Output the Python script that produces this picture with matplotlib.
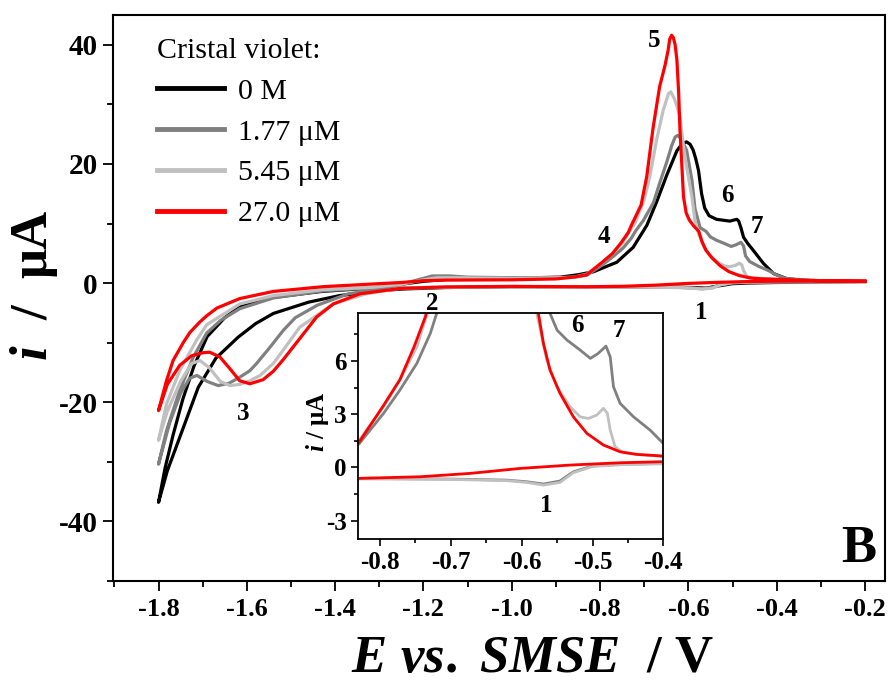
import matplotlib
matplotlib.use("Agg")
import matplotlib.pyplot as plt
from matplotlib.ticker import MultipleLocator, FuncFormatter

plt.rcParams['font.family'] = ['Liberation Serif', 'DejaVu Serif']
plt.rcParams['mathtext.fontset'] = 'custom'
plt.rcParams['mathtext.rm'] = 'Liberation Serif:bold'
plt.rcParams['mathtext.it'] = 'Liberation Serif:italic:bold'
plt.rcParams['mathtext.bf'] = 'Liberation Serif:bold'

# ---- cyclic voltammograms: potential E (V vs SMSE) and current i (uA) ----
# 0 M crystal violet
e_0 = [-0.20, -0.30, -0.40, -0.47, -0.50, -0.53, -0.56, -0.59, -0.65, -0.80, -1.00, -1.15, -1.25, -1.30,
       -1.39, -1.46, -1.54, -1.58, -1.62, -1.67, -1.71, -1.745, -1.78, -1.80,
       -1.785, -1.767, -1.745, -1.72, -1.69, -1.65, -1.616, -1.54, -1.43, -1.31, -1.25, -1.20, -1.15,
       -1.05, -0.95, -0.89, -0.85, -0.815, -0.762, -0.725, -0.694, -0.672, -0.649, -0.626, -0.614,
       -0.604, -0.596, -0.589, -0.583, -0.577, -0.570, -0.563, -0.553, -0.536, -0.506, -0.496, -0.490,
       -0.486, -0.481, -0.475, -0.465, -0.453, -0.430, -0.407, -0.377, -0.33, -0.26, -0.20]
i_0 = [0.25, 0.2, 0.1, 0.0, -0.1, -0.45, -0.85, -0.75, -0.65, -0.6, -0.6, -0.75, -1.0, -1.3,
       -2.1, -3.2, -5.1, -6.8, -9.1, -12.6, -17.5, -24.5, -31.5, -36.8,
       -31.0, -25.5, -19.5, -14.0, -9.0, -5.8, -4.0, -2.4, -1.4, -0.8, -0.2, 0.3, 0.6,
       0.8, 0.9, 1.0, 1.4, 1.9, 3.5, 6.0, 9.7, 13.6, 18.1, 22.2, 23.4,
       23.7, 23.3, 22.3, 20.8, 18.9, 15.0, 12.6, 11.3, 10.7, 10.4, 10.6, 10.7,
       10.4, 9.3, 7.7, 6.6, 5.5, 3.3, 1.6, 0.74, 0.45, 0.35, 0.3]

# 1.77 uM crystal violet
e_177 = [-0.20, -0.30, -0.40, -0.46, -0.50, -0.527, -0.546, -0.569, -0.593, -0.621, -0.70, -0.83, -1.00,
         -1.15, -1.25, -1.29, -1.37, -1.44, -1.49, -1.517, -1.55, -1.578, -1.593, -1.616, -1.64, -1.665,
         -1.69, -1.713, -1.73, -1.75, -1.775, -1.80,
         -1.782, -1.752, -1.721, -1.691, -1.66, -1.616, -1.54, -1.427, -1.314, -1.25, -1.21, -1.18, -1.14,
         -1.10, -1.00, -0.90, -0.86, -0.83, -0.795, -0.772, -0.748, -0.729, -0.720, -0.702, -0.679, -0.664,
         -0.649, -0.638, -0.630, -0.624, -0.617, -0.604, -0.592, -0.585, -0.5735, -0.560, -0.550, -0.536,
         -0.5175, -0.503, -0.492, -0.481, -0.475, -0.4704, -0.461, -0.442, -0.4186, -0.40, -0.38, -0.35,
         -0.30, -0.20]
i_177 = [0.25, 0.22, 0.23, 0.17, 0.08, -0.25, -0.77, -0.94, -0.81, -0.72, -0.66, -0.62, -0.6,
         -0.7, -0.8, -0.9, -1.8, -3.7, -5.8, -7.9, -11.0, -13.5, -14.7, -15.8, -16.8, -17.2,
         -16.5, -15.5, -16.0, -18.5, -23.5, -30.4,
         -24.8, -18.0, -12.4, -8.4, -6.3, -4.3, -2.5, -1.3, -0.8, -0.2, 0.6, 1.2, 1.2,
         1.0, 0.9, 0.9, 0.95, 1.31, 3.05, 4.36, 5.87, 7.56, 8.69, 10.5, 13.5, 17.0,
         20.3, 23.0, 24.5, 24.8, 24.3, 22.3, 17.3, 12.5, 9.3, 8.69, 7.74, 7.18,
         6.62, 6.15, 6.43, 6.84, 6.24, 4.55, 3.61, 2.85, 2.1, 1.35, 0.8, 0.5,
         0.35, 0.3]

# 5.45 uM crystal violet
e_545 = [-0.20, -0.40, -0.46, -0.50, -0.527, -0.546, -0.569, -0.593, -0.621, -0.70, -0.83, -1.00, -1.15,
         -1.25, -1.33, -1.404, -1.48, -1.52, -1.54, -1.57, -1.593, -1.615, -1.638, -1.66, -1.685, -1.706,
         -1.725, -1.75, -1.78, -1.80,
         -1.782, -1.752, -1.714, -1.691, -1.616, -1.54, -1.427, -1.314, -1.25, -1.21, -1.17, -1.12, -1.00,
         -0.90, -0.86, -0.83, -0.795, -0.772, -0.748, -0.733, -0.72, -0.70, -0.687, -0.672, -0.657,
         -0.645, -0.640, -0.632, -0.625, -0.619, -0.611, -0.604, -0.592, -0.585, -0.5787, -0.5646,
         -0.5504, -0.5316, -0.5175, -0.5058, -0.494, -0.4846, -0.479, -0.475, -0.468, -0.4563, -0.40,
         -0.30, -0.20]
i_545 = [0.25, 0.2, 0.15, 0.05, -0.3, -0.85, -1.0, -0.85, -0.75, -0.68, -0.65, -0.6, -0.7,
         -0.85, -1.8, -3.5, -7.4, -11.5, -13.5, -15.5, -16.4, -17.0, -17.2, -16.5, -14.2, -13.0,
         -13.5, -16.5, -21.5, -26.4,
         -20.3, -14.7, -9.6, -7.0, -3.5, -2.1, -1.1, -0.7, -0.2, 0.4, 0.9, 0.9, 0.8,
         0.9, 1.0, 1.5, 3.42, 4.92, 6.8, 8.7, 10.2, 14.0, 18.0, 24.0, 29.0,
         31.8, 32.1, 31.0, 29.5, 27.9, 22.9, 19.5, 14.5, 10.5, 8.7, 6.05,
         4.55, 3.42, 2.85, 2.76, 2.95, 3.33, 3.05, 2.1, 1.16, 0.82, 0.6,
         0.4, 0.3]

# 27.0 uM crystal violet
e_270 = [-0.20, -0.30, -0.40, -0.461, -0.5316, -0.6023, -0.6729, -0.7435, -0.83, -1.00, -1.15, -1.253,
         -1.344, -1.404, -1.442, -1.48, -1.517, -1.54, -1.563, -1.593, -1.616, -1.638, -1.661, -1.684,
         -1.70, -1.725, -1.752, -1.78, -1.80,
         -1.782, -1.767, -1.744, -1.729, -1.706, -1.691, -1.668, -1.616, -1.54, -1.427, -1.314, -1.25,
         -1.20, -1.15, -1.00, -0.90, -0.86, -0.83, -0.795, -0.772, -0.752, -0.736, -0.729, -0.707,
         -0.694, -0.68, -0.665, -0.653, -0.646, -0.642, -0.638, -0.634, -0.630, -0.626, -0.622, -0.619,
         -0.615, -0.611, -0.605, -0.598, -0.588, -0.5764, -0.5693, -0.560, -0.5458, -0.527, -0.508,
         -0.4846, -0.461, -0.4374, -0.40, -0.30, -0.20]
i_270 = [0.3, 0.32, 0.32, 0.26, 0.13, -0.06, -0.34, -0.53, -0.62, -0.55, -0.65, -0.9,
         -1.8, -3.5, -5.7, -9.3, -12.8, -14.8, -16.2, -16.9, -16.4, -14.4, -12.4, -11.6,
         -11.7, -12.2, -13.8, -17.0, -21.4,
         -16.4, -13.0, -10.0, -8.3, -6.5, -5.5, -4.2, -2.6, -1.4, -0.6, -0.15, 0.1,
         0.4, 0.5, 0.55, 0.7, 1.0, 1.4, 3.5, 4.95, 6.8, 8.5, 9.7, 13.1,
         18.0, 26.0, 33.0, 36.5, 39.0, 41.0, 41.6, 41.2, 40.0, 37.5, 32.0, 25.7,
         20.1, 14.5, 11.8, 10.6, 9.6, 8.69, 7.0, 5.49, 4.17, 2.85, 1.92,
         1.26, 0.88, 0.73, 0.64, 0.4, 0.32]

series = [
    (e_0, i_0, '0 M', '#000000'),
    (e_177, i_177, '1.77 \u03bcM', '#808080'),
    (e_545, i_545, '5.45 \u03bcM', '#c0c0c0'),
    (e_270, i_270, '27.0 \u03bcM', '#ff0000'),
]

# peak labels (main panel and inset)
peak_labels = ['1', '2', '3', '4', '5', '6', '7']
peak_e = [-0.571, -1.181, -1.609, -0.791, -0.678, -0.512, -0.444]
peak_i = [-4.9, -3.4, -21.9, 7.8, 40.8, 14.7, 9.5]
inset_labels = ['1', '6', '7']
inset_e = [-0.5655, -0.521, -0.4624]
inset_i = [-2.13, 8.0, 7.74]

fig = plt.figure(figsize=(8.9, 6.84), dpi=100)
ax = fig.add_axes([0.127, 0.1506, 0.8677, 0.8275])

for e, cur, lab, col in series:
    ax.plot(e, cur, color=col, lw=2.3, label=lab, solid_joinstyle='round')

ax.set_xlim(-1.903, -0.154)
ax.set_ylim(-50, 45)
ax.xaxis.set_major_locator(MultipleLocator(0.2))
ax.xaxis.set_minor_locator(MultipleLocator(0.1))
ax.yaxis.set_major_locator(MultipleLocator(20))
ax.yaxis.set_minor_locator(MultipleLocator(10))
ax.tick_params(which='both', direction='out', top=False, right=False, width=1.3)
ax.tick_params(which='major', length=7)
ax.tick_params(which='minor', length=4)
ax.tick_params(axis='x', labelsize=19, pad=5)
ax.tick_params(axis='y', labelsize=21, pad=4)
ax.xaxis.set_major_formatter(FuncFormatter(lambda v, p: f'{v:.1f}'))
ax.yaxis.set_major_formatter(FuncFormatter(lambda v, p: f'{v:.0f}'))
for lbl in ax.get_xticklabels() + ax.get_yticklabels():
    lbl.set_fontweight('bold')
for sp in ax.spines.values():
    sp.set_linewidth(1.5)

fig.text(0.598, 0.036, '$\\mathit{E\\ vs.\\ SMSE}$  / V', fontsize=38, fontweight='bold',
         ha='center', va='center')
fig.text(0.038, 0.583, '$\\mathit{i}$  /  \u03bcA', fontsize=38, fontweight='bold',
         rotation=90, ha='center', va='center')

leg = ax.legend(loc='upper left', bbox_to_anchor=(0.041, 0.981), frameon=False, fontsize=21.5,
                title='Cristal violet:', title_fontsize=21.5, handlelength=2.24, handletextpad=0.5,
                labelspacing=0.47, borderaxespad=0.0, alignment='left')
for h in leg.get_lines():
    h.set_linewidth(3.5)

for t, e, cur in zip(peak_labels, peak_e, peak_i):
    ax.text(e, cur, t, fontsize=18, fontweight='bold', ha='center', va='center', zorder=1)
ax.text(-0.215, -44.6, 'B', fontsize=38, fontweight='bold', ha='center', va='center')

# inset: zoom on the -0.83 ... -0.4 V region
axi = fig.add_axes([0.4026, 0.2115, 0.3427, 0.3304])
axi.set_facecolor('white')
for e, cur, lab, col in series[1:]:
    axi.plot(e, cur, color=col, lw=2.0)
axi.set_xlim(-0.8307, -0.40)
axi.set_ylim(-4.06, 8.69)
axi.xaxis.set_major_locator(MultipleLocator(0.1))
axi.xaxis.set_minor_locator(MultipleLocator(0.05))
axi.yaxis.set_major_locator(MultipleLocator(3))
axi.yaxis.set_minor_locator(MultipleLocator(1.5))
axi.tick_params(which='both', direction='out', top=False, right=False, width=1.2)
axi.tick_params(which='major', length=5, labelsize=18)
axi.tick_params(which='minor', length=3)
axi.xaxis.set_major_formatter(FuncFormatter(lambda v, p: f'{v:.1f}'))
axi.yaxis.set_major_formatter(FuncFormatter(lambda v, p: f'{v:.0f}'))
for lbl in axi.get_xticklabels() + axi.get_yticklabels():
    lbl.set_fontweight('bold')
for sp in axi.spines.values():
    sp.set_linewidth(1.3)
axi.set_ylabel('$\\mathit{i}$ / \u03bcA', fontsize=18, fontweight='bold')
axi.yaxis.set_label_coords(-0.09, 0.52)
for t, e, cur in zip(inset_labels, inset_e, inset_i):
    axi.text(e, cur, t, fontsize=18, fontweight='bold', ha='center', va='center')

fig.savefig('out.png', dpi=100)
